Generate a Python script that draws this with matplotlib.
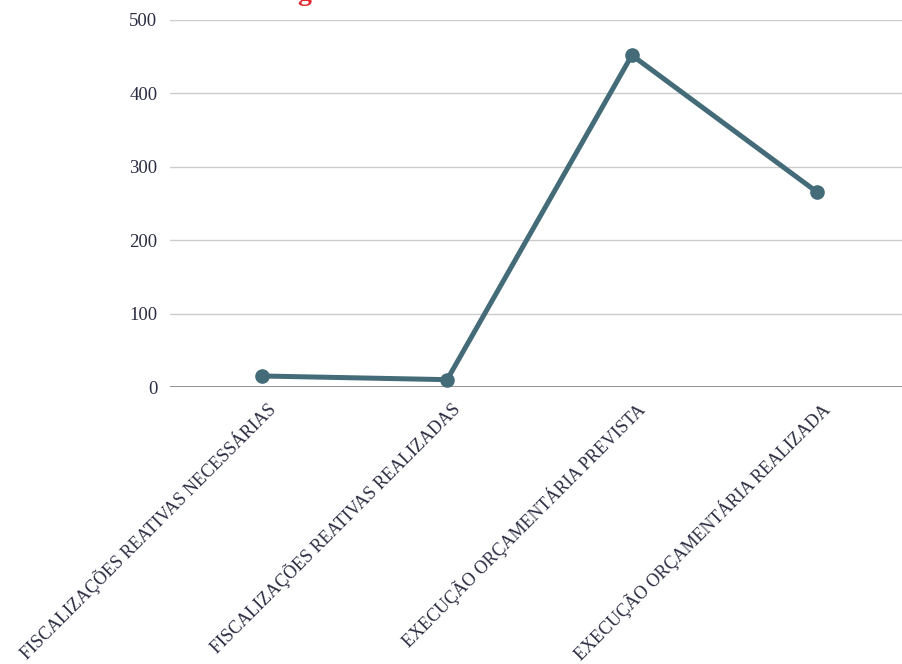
import matplotlib
matplotlib.use("Agg")
import matplotlib.pyplot as plt

categories = [
    "FISCALIZAÇÕES REATIVAS NECESSÁRIAS",
    "FISCALIZAÇÕES REATIVAS REALIZADAS",
    "EXECUÇÃO ORÇAMENTÁRIA PREVISTA",
    "EXECUÇÃO ORÇAMENTÁRIA REALIZADA",
]
values = [15, 10, 452, 266]
y_ticks = [0, 100, 200, 300, 400, 500]

line_color = "#436b78"
text_color = "#2b2d42"

plt.rcParams['font.family'] = ['Liberation Serif', 'DejaVu Serif']

fig = plt.figure(figsize=(9.02, 6.64), dpi=100)
ax = fig.add_axes([170/902, 1 - 387/664, 739/902, 367/664])

x = list(range(len(categories)))
ax.plot(x, values, color=line_color, linewidth=3.6, marker='o', markersize=9.5,
        solid_capstyle='round', solid_joinstyle='round', zorder=3, clip_on=False)

ax.set_xlim(-0.5, len(categories) - 0.5)
ax.set_ylim(0, 500)
ax.set_yticks(y_ticks)
ax.set_yticklabels([str(v) for v in y_ticks], fontsize=13.5, color=text_color)
ax.set_xticks(x)
ax.set_xticklabels([])
for i, cat in enumerate(categories):
    ax.annotate(cat, xy=(i, 0), xycoords=('data', 'axes fraction'),
                xytext=(7.2, -13.7), textcoords='offset points',
                fontsize=13, color=text_color, rotation=45,
                ha='right', va='center', rotation_mode='anchor',
                annotation_clip=False)

for v in y_ticks[1:]:
    ax.axhline(v, color='#cccccc', linewidth=1.0, zorder=1)
ax.axhline(0, color='#808080', linewidth=1.2, zorder=2)

for s in ax.spines.values():
    s.set_visible(False)
ax.tick_params(axis='both', length=0)
ax.tick_params(axis='y', pad=9)

fig.text(304/902, 1.0, "g", color='#e0282e', fontsize=20, fontweight='bold',
         ha='center', va='baseline')

fig.savefig("out.png", dpi=100)
